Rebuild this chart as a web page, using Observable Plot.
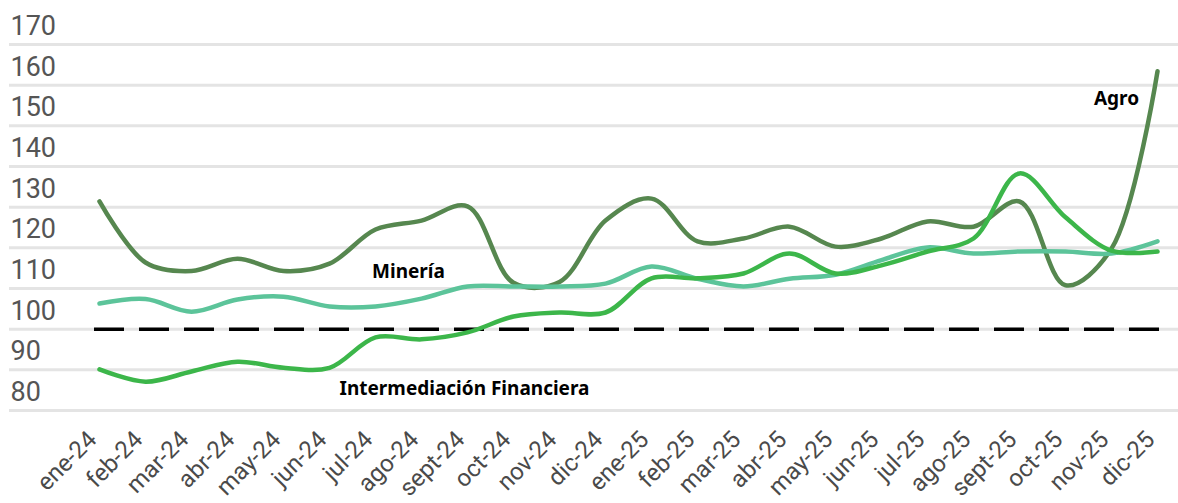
<!DOCTYPE html>
<html>
<head>
<meta charset="utf-8">
<script src="https://cdn.jsdelivr.net/npm/d3@7"></script>
<script src="https://cdn.jsdelivr.net/npm/@observablehq/plot@0.6"></script>
<style>
  html, body { margin: 0; padding: 0; background: #fff; }
  #chart { width: 1178px; height: 503px; }
</style>
</head>
<body>
<div id="chart"></div>
<script>
const months = ["ene-24","feb-24","mar-24","abr-24","may-24","jun-24","jul-24","ago-24","sept-24","oct-24","nov-24","dic-24",
                "ene-25","feb-25","mar-25","abr-25","may-25","jun-25","jul-25","ago-25","sept-25","oct-25","nov-25","dic-25"];
const agro = [131.4,116.4,114.3,117.3,114.3,116.1,124.5,126.7,130.2,111.4,111.6,126.7,
              132.1,121.6,122.3,125.2,120.3,122.3,126.5,125.2,131.4,110.8,119.8,163.4];
const mineria = [106.3,107.4,104.3,107.3,108.0,105.6,105.6,107.5,110.5,110.5,110.5,111.2,
                 115.4,112.4,110.5,112.4,113.4,117.0,120.1,118.6,119.1,119.1,118.6,121.6];
const intermediacion = [90.1,87.1,89.6,92.0,90.5,90.5,98.0,97.5,99.2,103.1,104.1,104.1,
                        112.5,112.5,113.7,118.6,113.7,115.7,119.1,122.3,138.3,127.5,119.3,119.1];
const yTicks = [80,90,100,110,120,130,140,150,160,170];
const seriesNames = ["Agro","Minería","Intermediación Financiera"];
const seriesColors = ["#56874f","#5cc49a","#3cb64a"];
const labelNames = ["Agro","Minería","Intermediación Financiera"];
const labelMonths = ["nov-25","ago-24","sept-24"];
const labelValues = [156.7,114.2,85.2];
const labelDx = [5,-13,-3];

const rows = [];
[agro, mineria, intermediacion].forEach((arr, si) => {
  arr.forEach((v, i) => rows.push({month: months[i], value: v, series: seriesNames[si]}));
});
const labelMarks = labelNames.map((t, i) =>
  Plot.text([{text: t, month: labelMonths[i], value: labelValues[i]}], {
    x: "month", y: "value", text: "text", dx: labelDx[i], fontSize: 19, fontWeight: "bold",
    fontFamily: "'Noto Sans', sans-serif", fill: "#000"
  })
);

const chart = Plot.plot({
  width: 1178,
  height: 503,
  marginLeft: 94,
  marginRight: 17,
  marginTop: 44,
  marginBottom: 93,
  style: {fontFamily: "Roboto, sans-serif", background: "#fff", overflow: "visible"},
  x: {type: "point", domain: months, padding: 0, label: null},
  y: {domain: [80, 170], label: null},
  color: {domain: seriesNames, range: seriesColors},
  marks: [
    Plot.ruleY(yTicks, {stroke: "#e4e4e4", strokeWidth: 3, insetLeft: -85, insetRight: -17}),
    Plot.axisY({ticks: yTicks, tickSize: 0, tickPadding: 0, textAnchor: "start", dx: -84, dy: -18,
                fontSize: 27, fill: "#555", label: null}),
    Plot.axisX({tickSize: 0, tickRotate: -45, fontSize: 24, fill: "#4a4a4a", tickPadding: 25, dx: -7, label: null}),
    Plot.ruleY([100], {stroke: "#000", strokeWidth: 3.5, strokeDasharray: "30,15"}),
    Plot.line(rows, {x: "month", y: "value", z: "series", stroke: "series", strokeWidth: 4.5, curve: "catmull-rom"}),
    ...labelMarks
  ]
});
document.getElementById("chart").appendChild(chart);
</script>
</body>
</html>
